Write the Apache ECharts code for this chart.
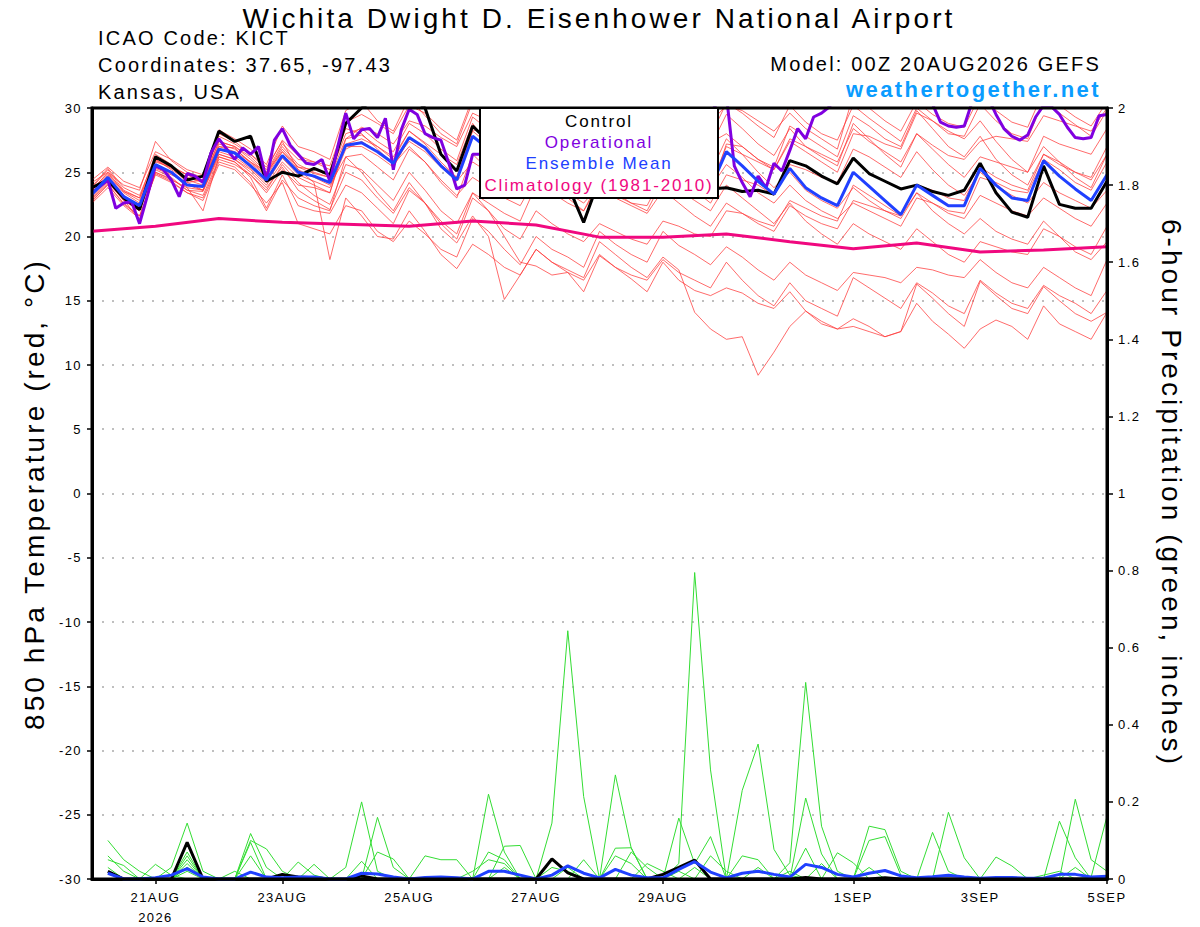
<!DOCTYPE html>
<html>
<head>
<meta charset="utf-8">
<title>KICT GEFS meteogram</title>
<script src="https://cdn.jsdelivr.net/npm/echarts@6.0.0/dist/echarts.min.js"></script>
<style>
html, body { margin: 0; padding: 0; background: #fff; }
#main { width: 1200px; height: 927px; }
#main text { letter-spacing: 0.11em; }
</style>
</head>
<body>
<div id="main"></div>
<script>
// x axis: hours after 00Z 20AUG2026, 6-hourly steps
var tickHours = [24, 72, 120, 168, 216, 288, 336, 384];
var tickLabels = ['21AUG\n2026', '23AUG', '25AUG', '27AUG', '29AUG', '1SEP', '3SEP', '5SEP'];

// 850 hPa temperature (C), one value every 6 h from 00Z 20AUG
var tempControl = [23.8,24.4,23.0,22.1,26.2,25.5,24.4,24.7, 28.2,27.4,27.8,24.3,25.0,24.7,25.3,24.8,
  28.8,30.0,30.8,31.5,31.0,30.0,26.4,25.1, 28.6,27.4,26.2,25.6,27.5,26.0,24.0,21.1,
  24.5,25.0,24.5,24.0,25.5,24.5,24.0,23.7, 23.8,23.5,23.6,23.3,25.9,25.5,24.7,24.1,
  26.1,24.9,24.3,23.7,24.0,23.5,23.2,23.6, 25.7,23.4,21.9,21.5,25.5,22.5,22.2,22.2, 24.3];
var tempMean = [23.3,24.6,23.1,22.4,25.6,25.0,24.0,23.9, 26.8,26.5,25.5,24.4,26.3,25.0,24.7,24.2,
  27.1,27.3,26.6,25.7,27.7,26.9,25.5,24.4, 27.8,26.8,25.6,24.8,26.8,25.8,25.0,24.3,
  26.2,25.2,24.6,24.0,26.0,25.0,24.3,23.8, 26.6,25.5,24.3,23.3,25.3,23.8,23.0,22.4,
  25.0,23.9,22.8,21.7,24.0,23.2,22.4,22.4, 25.3,24.0,23.0,22.8,25.9,24.7,23.7,22.8, 24.8];

// operational run, 3-hourly where it can be read
var opHours = [0,6,9,12,15,18,21,24,27,30,33,36,39,42,45,48,51,54,57,60,63,66,69,72,75,78,81,84,87,90,
  93,96,99,102,105,108,111,114,117,120,123,126,129,132,135,138,141,144,147,
  156,168,180,192,204,216,228,237,240,243,246,249,252,255,258,261,264,267,270,273,276,279,282,
  294,306,318,321,324,327,330,333,336,339,342,345,348,351,354,357,360,363,366,369,372,375,378,381,384];
var opTemp = [23.4,24.4,22.2,22.6,22.7,21.0,23.2,25.5,25.2,24.4,23.1,24.9,24.7,24.2,26.5,27.6,26.8,26.0,26.9,26.4,
  27.0,24.4,27.5,28.4,27.1,26.4,25.7,25.6,26.0,24.3, 27.0,29.6,27.6,28.3,28.4,27.7,29.2,25.2,28.3,29.9,
  29.5,28.0,27.7,27.5,25.7,23.7,24.0,26.4,26.4, 28.0,28.5,26.0,28.0,26.2,28.4,28.0,30.5,31.0,25.5,24.2,
  23.1,24.7,23.8,25.7,25.1,26.7,28.4,27.6,29.3,29.6,30.1,31.0, 32.0,32.5,30.3,28.9,28.6,28.5,28.6,30.5,
  31.5,30.8,29.5,28.4,27.8,27.5,27.9,29.3,30.2,30.1,29.5,28.5,27.7,27.6,27.7,29.4,29.5];

// climatology 1981-2010, daily at 00Z
var climHours = [0,24,48,72,96,120,144,168,192,216,240,264,288,312,336,360,384];
var climTemp = [20.4,20.8,21.4,21.1,20.95,20.8,21.2,20.9,19.95,19.95,20.2,19.6,19.05,19.5,18.8,18.95,19.2];

// ensemble members, 850 hPa temperature every 6 h
var memberTemps = [
  [23.8,25.2,23.6,23.0,26.4,25.6,24.5,24.3, 27.8,27.2,26.4,25.2,27.5,26.3,25.8,25.5, 28.9,29.5,28.8,28.0,30.2,29.6,28.4,27.5,
   30.8,30.2,29.3,28.6,31.0,30.2,29.3,28.7, 31.2,30.3,29.5,29.0,31.2,30.2,29.4,28.9, 30.2,29.8,29.0,28.2,29.6,28.4,27.6,26.8,
   31.0,30.0,29.0,28.2,30.5,29.5,28.8,28.5, 31.0,29.8,28.9,28.5,31.3,30.2,29.3,28.6, 30.5],
  [24.2,25.0,24.0,23.6,27.4,25.9,25.0,24.6, 28.3,27.6,26.8,25.6,28.6,27.0,26.6,26.0, 29.8,30.5,29.0,28.2,30.8,29.4,28.0,27.2,
   30.5,29.5,28.7,27.9,30.0,29.0,28.2,27.5, 30.2,29.4,28.6,28.0,30.5,29.6,28.6,27.8, 30.4,29.6,28.6,27.7,30.2,28.9,28.0,27.5,
   30.2,29.2,28.3,27.4,30.0,29.0,28.0,27.8, 30.3,29.0,28.0,27.6,30.6,29.6,28.7,27.8, 29.8],
  [23.0,24.3,22.8,22.0,25.3,24.8,24.2,23.6, 26.4,26.0,25.2,24.0,25.8,24.6,24.0,23.4, 27.6,28.5,28.0,27.2,29.0,28.6,27.7,27.0,
   29.6,29.0,28.0,27.4,29.4,28.5,27.6,27.0, 29.6,28.8,28.0,27.2,29.5,28.7,28.0,27.3, 28.0,27.0,26.0,25.2,27.4,26.6,25.8,25.0,
   28.0,27.8,27.2,26.8,29.6,29.0,28.2,27.6, 29.0,27.4,26.0,25.0,27.0,25.8,25.0,24.4, 26.4],
  [23.6,24.8,23.4,22.6,26.0,25.2,24.4,24.0, 27.2,26.8,25.8,24.8,26.8,25.4,25.2,24.8, 28.0,28.4,27.4,26.6,28.8,28.0,26.8,25.9,
   29.3,28.3,27.2,26.5,27.8,26.4,25.4,24.6, 26.8,26.4,26.0,25.6,28.4,28.0,27.4,27.0, 29.5,28.4,27.2,26.3,28.4,27.0,26.2,25.5,
   28.8,27.6,26.4,25.4,28.0,27.1,26.3,26.0, 27.4,27.8,27.6,27.4,29.4,29.0,28.6,28.2, 30.0],
  [22.8,24.0,22.6,21.6,25.0,24.5,23.6,23.2, 26.0,25.6,24.8,23.4,25.2,24.0,23.8,23.4, 27.2,27.6,27.0,26.2,28.2,27.3,26.4,25.6,
   28.8,27.2,25.4,24.0,25.8,24.2,23.0,22.0, 24.0,23.2,22.6,22.4,24.8,24.6,24.0,23.4, 27.2,27.0,26.0,25.4,28.6,27.8,27.0,26.2,
   29.4,28.6,27.6,27.0,29.8,28.4,27.0,26.2, 27.8,26.0,24.8,24.0,26.4,25.8,24.6,23.8, 26.4],
  [23.4,24.6,23.2,22.3,25.8,25.4,24.2,24.4, 27.0,26.9,25.7,24.7,26.6,25.4,24.9,24.6, 27.0,27.0,26.3,25.4,27.6,26.8,25.6,24.6,
   28.3,28.0,27.4,26.8,29.0,28.6,27.6,26.8, 29.4,28.2,27.0,26.0,27.6,26.0,24.8,23.8, 25.6,24.6,23.4,22.6,24.0,22.8,22.0,21.4,
   22.6,22.0,21.4,20.8,23.0,22.6,22.0,21.8, 24.6,24.2,23.6,23.4,26.0,25.2,24.2,23.6, 25.8],
  [23.1,24.4,23.0,22.5,25.4,24.9,24.0,23.6, 26.6,26.2,25.3,24.2,26.1,24.8,24.3,23.8, 26.8,27.4,26.6,25.8,27.4,26.6,25.4,24.3,
   25.8,25.0,24.2,23.6,25.2,24.6,24.0,23.2, 25.0,24.4,23.6,23.2,25.8,25.4,24.6,24.0, 27.0,26.4,25.8,25.2,27.6,27.0,26.4,25.8,
   28.4,27.4,26.6,25.8,28.0,26.8,25.6,24.6, 26.2,25.8,25.4,25.0,27.8,27.2,26.8,26.4, 28.4],
  [23.7,24.9,23.5,23.0,25.9,25.3,24.6,24.2, 27.4,27.0,26.0,24.9,27.0,25.6,25.0,24.6, 27.6,27.9,27.0,26.0,28.2,27.2,25.8,24.6,
   28.2,27.2,26.2,25.4,27.4,26.5,25.6,24.9, 26.0,25.6,25.0,24.4,25.6,24.6,23.6,22.6, 24.8,24.4,24.0,23.2,25.6,25.2,24.6,24.2,
   26.8,26.2,25.4,24.6,26.6,25.2,24.0,23.2, 25.0,24.0,23.2,22.6,24.2,23.4,22.8,22.2, 23.6],
  [22.6,23.8,22.4,21.4,24.9,24.3,23.4,23.0, 25.8,25.4,24.2,22.0,24.4,23.0,22.4,22.0, 26.2,26.4,25.4,24.4,26.8,25.8,24.4,23.2,
   24.6,23.8,23.0,22.4,24.6,24.2,23.6,23.0, 26.0,25.4,24.6,24.2,27.0,26.4,25.8,25.0, 27.6,26.4,25.0,23.8,25.0,23.6,22.8,22.2,
   23.8,22.8,22.0,21.4,23.4,22.6,21.8,21.4, 23.2,22.6,22.0,21.6,23.0,22.2,21.4,20.8, 22.6],
  [23.9,25.3,23.8,23.2,26.2,25.5,24.8,24.4, 27.4,27.0,26.2,25.0,27.2,26.0,25.8,25.2, 28.4,28.0,26.8,25.6,27.0,25.8,24.2,23.0,
   26.4,25.2,24.0,23.2,25.6,24.4,23.4,22.6, 24.0,23.0,22.4,21.8,23.6,22.6,21.6,20.8, 22.6,21.8,21.0,20.4,22.4,21.6,21.0,20.6,
   22.8,22.4,22.0,21.6,24.0,23.6,23.0,22.8, 25.4,24.6,24.0,23.6,26.4,25.6,25.0,24.6, 27.0],
  [22.9,24.2,22.8,22.0,25.2,24.6,23.6,23.5, 26.2,25.8,24.8,23.6,25.6,24.2,23.2,22.5, 25.6,25.2,24.0,22.8,25.0,23.6,22.0,21.0,
   23.4,22.6,21.8,21.2,24.0,23.4,22.6,22.0, 24.4,23.4,22.6,22.0,24.4,23.6,22.8,22.0, 24.0,23.0,22.0,21.0,22.6,21.2,20.2,19.4,
   21.0,20.2,19.6,19.0,20.6,19.6,18.6,18.0, 19.6,19.2,18.8,18.6,20.6,20.0,19.2,18.6, 20.8],
  [23.5,24.7,23.2,22.2,25.5,25.0,23.8,23.6, 26.4,26.0,25.0,23.8,25.4,23.6,22.8,22.1, 25.0,24.4,23.0,21.8,23.8,22.6,21.2,20.2,
   23.4,22.0,20.6,19.8,22.0,21.0,20.2,19.6, 21.0,20.4,19.8,19.4,21.2,20.8,20.2,20.0, 22.0,21.8,21.2,20.8,22.8,22.2,21.6,21.2,
   24.0,23.2,22.4,21.6,23.4,22.0,21.0,20.2, 21.4,20.4,19.8,19.4,21.2,20.0,18.8,18.2, 19.6],
  [22.7,24.1,22.5,21.6,24.8,24.2,23.4,22.8, 25.6,25.2,24.0,22.6,24.2,21.0,20.6,20.2, 22.4,22.0,20.4,19.6,21.2,20.2,19.0,18.4,
   21.4,20.4,19.0,17.8,20.0,19.0,18.4,17.6, 20.4,19.4,18.6,18.0,20.4,19.3,18.6,17.8, 19.2,18.4,17.4,16.6,18.0,17.0,16.4,15.8,
   17.2,17.0,16.8,16.4,17.6,17.4,17.0,16.8, 18.2,17.2,16.4,16.0,17.6,16.8,16.0,15.4, 18.2],
  [24.4,25.4,24.3,23.8,26.6,26.0,25.2,24.8, 28.0,27.4,26.4,25.4,27.4,25.2,24.2,18.2, 23.0,21.6,20.0,19.8,22.0,20.4,18.6,17.5,
   19.4,18.6,17.6,17.0,19.0,18.0,17.2,16.6, 18.6,17.6,17.0,16.6,18.2,17.2,16.6,16.0, 18.0,16.6,15.4,14.6,16.4,15.0,14.4,13.8,
   16.8,16.0,15.2,14.4,16.4,15.6,14.6,14.0, 16.6,15.6,14.8,14.4,16.2,15.4,14.8,14.0, 15.8],
  [23.2,24.5,22.9,21.2,25.0,24.4,23.8,22.0, 26.2,25.8,24.6,22.2,24.8,22.4,22.0,21.8, 24.0,23.4,22.2,21.0,23.6,22.6,21.0,19.8,
   23.0,22.0,20.0,18.0,17.7,17.0,17.2,15.7, 18.5,17.6,16.7,15.7,18.0,16.6,15.8,15.4, 16.0,15.6,14.8,14.4,15.7,14.2,13.4,12.8,
   13.6,13.0,12.2,12.6,16.3,15.2,14.0,13.0, 16.5,15.4,14.4,14.0,16.1,15.0,14.0,13.4, 14.1],
  [23.6,25.0,23.5,22.8,26.0,25.4,24.8,24.2, 27.0,26.6,25.8,25.0,26.6,25.2,24.6,24.0, 26.2,25.0,23.4,22.0,24.2,22.6,20.6,19.5,
   21.6,20.0,15.1,17.0,19.0,18.0,17.4,16.8, 19.6,18.6,17.6,16.8,18.4,17.4,14.1,12.8, 12.0,12.2,9.2,11.0,13.0,14.2,13.2,12.8,
   13.0,12.6,12.2,12.6,14.8,13.4,12.4,11.3, 12.8,13.5,13.0,12.0,14.6,13.2,12.6,12.0, 14.1]
];

// 6-hour precipitation (inches), periods ending 06Z 20AUG .. 00Z 5SEP
var precipControl = [0.02,0,0,0,0,0.095,0,0, 0,0,0,0.012,0.005,0.003,0,0, 0.008,0,0,0,0,0,0,0,
  0,0,0,0,0.052,0.016,0,0, 0,0,0,0.012,0.03,0.049,0,0, 0,0,0,0,0.004,0,0,0,
  0,0.003,0,0,0,0,0,0, 0,0,0,0,0,0,0,0];
var precipMean = [0.015,0,0,0.003,0.01,0.027,0.005,0, 0,0.018,0.005,0.003,0.005,0.005,0,0,
  0.015,0.013,0.005,0,0.004,0.005,0.003,0, 0.02,0.02,0.01,0,0.01,0.034,0.015,0.003,
  0.025,0.01,0.003,0.003,0.025,0.045,0.018,0.003, 0.015,0.02,0.012,0.005,0.038,0.03,0.012,0.005,
  0.015,0.022,0.008,0.003,0.006,0.01,0.005,0.002, 0.004,0.004,0.002,0.002,0.012,0.012,0.005,0.007];
var memberPrecip = [
  [0.10,0.05,0.02,0,0,0,0,0, 0,0,0,0,0,0,0,0.03, 0.20,0.02,0,0,0,0,0,0, 0,0,0,0,0,0,0,0,
   0,0,0,0,0.04,0.795,0.283,0, 0,0,0,0,0,0,0,0, 0,0,0,0,0.121,0.02,0,0, 0,0,0,0,0,0,0,0],
  [0.05,0.035,0,0,0.03,0.145,0.02,0, 0,0,0,0,0,0,0,0, 0,0,0,0,0,0,0,0, 0,0,0,0,0.145,0.644,0.214,0,
   0,0,0,0,0,0,0,0, 0,0,0,0,0,0,0,0, 0,0,0,0,0,0,0,0, 0,0,0,0,0.15,0.055,0,0],
  [0,0,0,0.038,0.01,0,0,0, 0,0.118,0.03,0,0,0,0,0, 0,0.16,0.03,0,0,0,0,0, 0,0,0,0,0,0,0,0,
   0,0,0,0,0,0,0,0, 0,0,0,0.042,0.51,0.137,0.02,0, 0,0,0,0,0,0,0,0, 0,0,0,0,0,0,0.005,0.163],
  [0,0,0,0,0,0.02,0,0, 0,0.10,0.078,0.02,0,0,0,0, 0,0,0,0,0,0,0,0, 0.22,0.07,0,0,0,0,0,0,
   0,0,0,0,0,0,0,0, 0.23,0.35,0.077,0.01,0,0,0,0, 0,0,0,0,0,0,0,0, 0,0,0,0,0,0.207,0.05,0.02],
  [0,0,0,0,0,0.09,0,0, 0,0.095,0,0,0,0,0,0, 0,0,0,0,0,0,0,0, 0,0,0,0,0,0,0,0,
   0.27,0.08,0,0,0,0,0,0, 0,0,0,0,0.21,0.065,0,0, 0,0,0,0,0,0.173,0.055,0, 0,0,0,0,0,0,0,0],
  [0,0,0,0,0,0,0,0, 0,0,0,0,0.044,0.01,0,0, 0,0.07,0.052,0,0,0,0,0, 0,0.085,0.087,0,0,0,0,0,
   0,0,0,0,0.158,0.04,0.11,0, 0,0,0,0,0,0,0,0, 0.137,0.128,0.02,0,0,0,0,0, 0,0,0,0,0,0,0,0],
  [0,0,0,0,0,0.03,0,0, 0,0,0,0,0,0.038,0,0, 0,0,0,0,0.06,0.05,0.05,0, 0,0,0,0,0,0,0,0,
   0,0.07,0.03,0,0,0,0,0, 0,0,0,0,0,0,0,0, 0,0,0,0,0,0,0,0, 0.057,0.034,0,0,0,0,0,0],
  [0,0,0,0,0,0.04,0,0, 0,0,0,0,0,0,0,0, 0.046,0,0,0,0,0,0,0, 0.07,0.05,0,0,0,0,0.05,0,
   0.06,0.04,0,0,0,0,0,0, 0.06,0.05,0,0,0,0,0,0, 0.10,0.11,0.01,0,0,0,0,0, 0,0,0,0,0,0,0,0],
  [0,0,0,0,0,0.06,0,0, 0,0,0,0,0,0,0,0, 0,0,0,0,0,0,0,0, 0,0,0,0,0.03,0.02,0,0,
   0.08,0.081,0,0,0,0,0.06,0.02, 0,0,0,0,0,0,0.068,0.042, 0,0,0,0,0,0,0,0, 0,0,0,0,0,0,0,0],
  [0,0,0,0,0,0.07,0,0, 0,0,0,0,0,0,0,0, 0,0,0,0,0,0,0,0.02, 0.05,0.04,0,0,0,0,0,0,
   0,0,0.04,0.02,0,0,0,0, 0,0.03,0,0,0.08,0,0,0, 0,0,0,0,0,0,0,0, 0,0,0,0,0,0.03,0,0],
  [0.06,0.02,0,0,0,0.05,0,0, 0,0.06,0,0,0,0,0,0, 0,0,0,0,0,0,0,0, 0,0,0,0,0,0.03,0,0,
   0,0,0,0,0,0.03,0,0, 0,0,0,0,0,0.04,0,0, 0.03,0,0,0,0,0,0,0, 0,0,0,0,0,0,0,0],
  [0.03,0,0,0,0,0.03,0,0, 0.02,0,0,0,0,0,0,0, 0,0,0,0,0,0,0,0, 0,0.03,0,0,0,0,0,0,
   0,0,0,0,0.02,0,0,0, 0,0,0,0.02,0,0,0,0, 0,0,0,0,0,0,0,0, 0,0,0,0.01,0.02,0,0,0]
];

var FONT = '"Liberation Sans", Arial, sans-serif';

function at6h(values, firstHour) {
  return values.map(function (v, i) { return [firstHour + i * 6, v]; });
}
function pairs(hours, values) {
  return hours.map(function (h, i) { return [h, values[i]]; });
}

var series = [];
memberTemps.forEach(function (m, k) {
  series.push({
    name: 'member' + (k + 1), type: 'line', yAxisIndex: 0, data: at6h(m, 0),
    symbol: 'none', silent: true,
    lineStyle: { color: '#ff3a3a', width: 1, opacity: 0.75 }, z: 2
  });
});
memberPrecip.forEach(function (m, k) {
  series.push({
    name: 'precip' + (k + 1), type: 'line', yAxisIndex: 1, data: at6h(m, 6),
    symbol: 'none', silent: true,
    lineStyle: { color: '#33dd33', width: 1 }, z: 3
  });
});
series.push({
  name: 'Climatology', type: 'line', yAxisIndex: 0, data: pairs(climHours, climTemp),
  symbol: 'none', silent: true, lineStyle: { color: '#f0087f', width: 3 }, z: 4
});
series.push({
  name: 'Control', type: 'line', yAxisIndex: 0, data: at6h(tempControl, 0),
  symbol: 'none', silent: true, lineStyle: { color: '#000', width: 3 }, z: 5
});
series.push({
  name: 'Operational', type: 'line', yAxisIndex: 0, data: pairs(opHours, opTemp),
  symbol: 'none', silent: true, lineStyle: { color: '#8000e0', width: 3 }, z: 6
});
series.push({
  name: 'Ensemble Mean', type: 'line', yAxisIndex: 0, data: at6h(tempMean, 0),
  symbol: 'none', silent: true, lineStyle: { color: '#2040ff', width: 3 }, z: 7
});
series.push({
  name: 'Control precip', type: 'line', yAxisIndex: 1, data: at6h(precipControl, 6),
  symbol: 'none', silent: true, lineStyle: { color: '#000', width: 3 }, z: 5
});
series.push({
  name: 'Mean precip', type: 'line', yAxisIndex: 1, data: at6h(precipMean, 6),
  symbol: 'none', silent: true, lineStyle: { color: '#2040ff', width: 3 }, z: 7
});

function txt(text, x, y, size, color, align, extra) {
  var s = { text: text, x: x, y: y, fill: color, font: (extra || '') + size + 'px ' + FONT,
    textAlign: align, verticalAlign: 'middle' };
  return { type: 'text', z: 100, silent: true, style: s };
}

var legendItems = [
  ['Control', '#000000'],
  ['Operational', '#8000e0'],
  ['Ensemble Mean', '#2040ff'],
  ['Climatology (1981-2010)', '#f0087f']
];

var chart = echarts.init(document.getElementById('main'), null, { renderer: 'svg' });

var option = {
  animation: false,
  backgroundColor: '#fff',
  textStyle: { fontFamily: FONT },
  grid: { left: 92, right: 93, top: 108, bottom: 44, show: true, z: 10,
    borderColor: '#000', borderWidth: 3, backgroundColor: 'transparent' },
  xAxis: {
    type: 'value', min: 0, max: 384,
    axisLine: { onZero: false, lineStyle: { color: '#000', width: 3 } },
    axisTick: { customValues: tickHours, length: 5, lineStyle: { color: '#000', width: 1.5 } },
    axisLabel: {
      customValues: tickHours, color: '#000', fontSize: 13, margin: 8, lineHeight: 20,
      formatter: function (v) {
        var i = tickHours.indexOf(v);
        return i < 0 ? '' : tickLabels[i];
      }
    },
    splitLine: { show: false }
  },
  yAxis: [{
    type: 'value', min: -30, max: 30, interval: 5, position: 'left',
    axisLine: { show: true, onZero: false, lineStyle: { color: '#000', width: 3 } },
    axisTick: { show: true, length: 5, lineStyle: { color: '#000', width: 1.5 } },
    axisLabel: { color: '#000', fontSize: 13, margin: 10 },
    splitLine: { show: true, lineStyle: { color: '#aaa', width: 1.5, type: [2, 8] } }
  }, {
    type: 'value', min: 0, max: 2, interval: 0.2, position: 'right',
    axisLine: { show: true, onZero: false, lineStyle: { color: '#000', width: 3 } },
    axisTick: { show: true, length: 6, lineStyle: { color: '#000', width: 1.5 } },
    axisLabel: { color: '#000', fontSize: 13, margin: 11 },
    splitLine: { show: false }
  }],
  graphic: [
    txt('Wichita Dwight D. Eisenhower National Airport', 599, 18, 28, '#000', 'center'),
    txt('ICAO Code: KICT', 98, 38, 20, '#000', 'left'),
    txt('Coordinates: 37.65, -97.43', 98, 65, 20, '#000', 'left'),
    txt('Kansas, USA', 98, 92, 20, '#000', 'left'),
    txt('Model: 00Z 20AUG2026 GEFS', 1101, 64, 20, '#000', 'right'),
    txt('weathertogether.net', 1101, 89, 22, '#0a9cff', 'right', 'bold '),
    {
      type: 'text', z: 100, silent: true, x: 34, y: 494, rotation: Math.PI / 2,
      style: { text: '850 hPa Temperature (red, °C)', x: 0, y: 0, fill: '#000',
        font: '28px ' + FONT, textAlign: 'center', verticalAlign: 'middle' }
    },
    {
      type: 'text', z: 100, silent: true, x: 1171, y: 493, rotation: -Math.PI / 2,
      style: { text: '6-hour Precipitation (green, inches)', x: 0, y: 0, fill: '#000',
        font: '28px ' + FONT, textAlign: 'center', verticalAlign: 'middle' }
    },
    {
      type: 'group', x: 480, y: 108, z: 100,
      children: [{
        type: 'rect', z: 100, silent: true,
        shape: { x: 0, y: 0, width: 238, height: 90 },
        style: { fill: '#fff', stroke: '#000', lineWidth: 2 }
      }].concat(legendItems.map(function (it, k) {
        return txt(it[0], 119, [13, 34, 55, 77][k], 17, it[1], 'center');
      }))
    }
  ],
  series: series
};

chart.setOption(option);
</script>
</body>
</html>
